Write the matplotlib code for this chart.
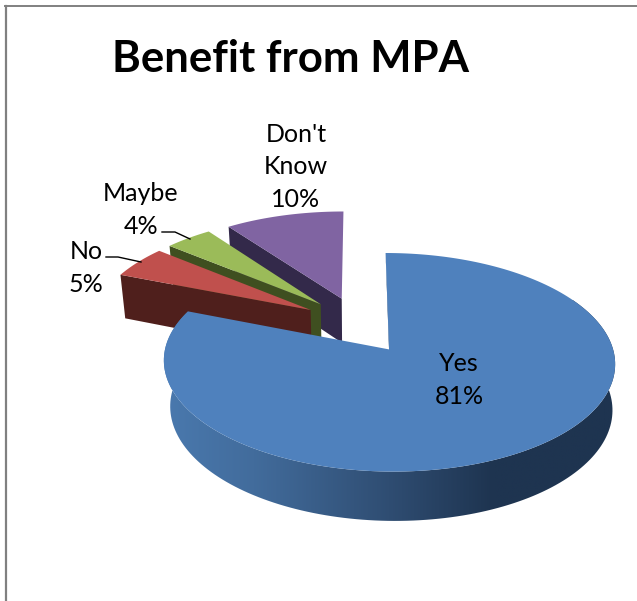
import numpy as np
import matplotlib
matplotlib.use('Agg')
import matplotlib.pyplot as plt
from matplotlib.colors import LinearSegmentedColormap
from matplotlib.patches import Polygon

# data
categories = ['Yes', 'No', 'Maybe', "Don't\nKnow"]
values = [81, 5, 4, 10]

top_colors = ['#4f81bd', '#c0504d', '#9bbb59', '#8064a2']
face_colors = ['#1f3552', '#4f1f1c', '#3f4f20', '#33294a']

# projection of the tilted pie onto the picture
cx, cy = 356.3, 326.8
scale_x, scale_y = 218.5, 102.5
persp = 0.115
explode = 0.26
depth = 45.0
bottom_x, bottom_y = 0.98, 1.03
# the slices at the back sit a little higher than the projection gives
back_x, back_y = 2.5, -3.5


def project(x, y, bottom=False, back=False):
    w = 1 + persp * y
    dx, dy = (back_x, back_y) if back else (0, 0)
    if bottom:
        dx = dx if back else 2.5
        return cx + dx + bottom_x * scale_x * x / w, cy + dy + depth - bottom_y * scale_y * y / w
    return cx + dx + scale_x * x / w, cy + dy - scale_y * y / w


def rim(x0, y0, start, end, bottom=False, back=False):
    t = np.radians(np.linspace(start, end, 200))
    return project(x0 + np.cos(t), y0 + np.sin(t), bottom, back)


fig = plt.figure(figsize=(6.37, 6.01), dpi=100)
ax = fig.add_axes([0, 0, 1, 1])
plt.rcParams['font.family'] = ['Lato', 'DejaVu Sans']

# slices run clockwise from 12 o'clock, drawn so that Yes ends up in front
angles = 90 - np.cumsum([0] + values) * 3.6
for i in [3, 2, 1, 0]:
    start, end = angles[i], angles[i + 1]
    mid = np.radians((start + end) / 2)
    x0, y0 = explode * np.cos(mid), explode * np.sin(mid)
    back = i > 0

    # cut face along the first edge of the slice
    sx, sy = x0 + np.cos(np.radians(start)), y0 + np.sin(np.radians(start))
    face = [project(x0, y0, False, back), project(sx, sy, False, back),
            project(sx, sy, True, back), project(x0, y0, True, back)]
    ax.add_patch(Polygon(face, fc=face_colors[i], ec='none', zorder=5 - i))

    if i == 0:
        # outer wall with the left to right shading
        tx, ty = rim(x0, y0, start, end)
        bx, by = rim(x0, y0, start, end, True)
        wall = Polygon(np.r_[np.c_[tx, ty], np.c_[bx, by][::-1]], fc='none', ec='none', zorder=5)
        ax.add_patch(wall)
        shade = LinearSegmentedColormap.from_list('wall', [(0, '#4a79ae'), (0.2, '#426c9c'), (0.5, '#2f4d72'), (0.73, '#1e3450'), (1, '#1e3450')])
        img = ax.imshow(np.linspace(0, 1, 256)[None, :], cmap=shade, extent=[163, 616, 540, 300], aspect='auto', zorder=5)
        img.set_clip_path(wall)

    rx, ry = rim(x0, y0, start, end, False, back)
    ax0, ay0 = project(x0, y0, False, back)
    ax.add_patch(Polygon(np.c_[np.r_[ax0, rx], np.r_[ay0, ry]], fc=top_colors[i], ec='none', zorder=5.5 - i))

# labels
ax.text(291, 72, 'Benefit from MPA', fontsize=31.5, fontweight='bold', ha='center', va='baseline', zorder=10)
label_pos = [(459, 371), (86, 259), (141, 201), (296, 142)]
for name, val, (lx, ly) in zip(categories, values, label_pos):
    lines = name.split('\n') + [f'{val}%']
    for n, line in enumerate(lines):
        ax.text(lx, ly + n * 32.5, line, fontsize=18, ha='center', va='baseline', zorder=10)

# leader lines
ax.plot([106, 118, 141], [257, 257, 262], color='black', lw=1, zorder=9)
ax.plot([162, 175, 190], [232, 232, 239], color='black', lw=1, zorder=9)

# chart border
ax.plot([6, 6], [601, 5.5], color='#808080', lw=1.6, zorder=9)
ax.plot([5, 637], [5.5, 5.5], color='#808080', lw=1.4, zorder=9)

ax.set_xlim(0, 637)
ax.set_ylim(601, 0)
ax.axis('off')
fig.savefig('out.png', dpi=100)
